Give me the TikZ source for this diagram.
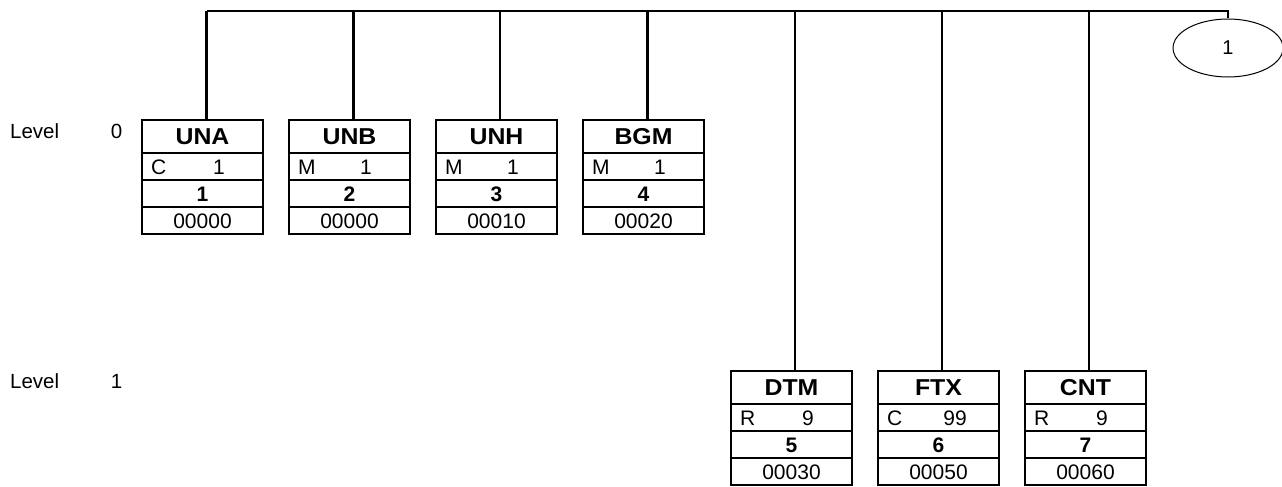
\documentclass[tikz,border=0pt]{standalone}
\usepackage{fontspec}
\setmainfont{Liberation Sans}
\usetikzlibrary{shapes.geometric}
\tikzset{
  segbox/.style={draw, line width=2pt, rectangle, minimum width=121pt, minimum height=114pt, inner sep=0pt},
  rowline/.style={line width=2pt},
  conn/.style={line width=2.2pt},
  captxt/.style={inner sep=0pt, text height=15pt, text depth=0pt, font=\fontsize{21}{25}\selectfont},
  ttltxt/.style={inner sep=0pt, text height=16.2pt, text depth=0pt, font=\fontsize{23}{27}\selectfont\bfseries},
  lvltxt/.style={inner sep=0pt, text height=14.6pt, text depth=0pt, font=\fontsize{20.5}{24}\selectfont},
  oval/.style={draw, ellipse, line width=1pt, minimum width=110pt, minimum height=58pt, inner sep=0pt}
}
\newcommand\segbox[8]{%
  \node[segbox] (#1) at (#2+60.5, #3+57) {};
  \draw[rowline] ([yshift=-34pt]#1.north west) -- ([yshift=-34pt]#1.north east);
  \draw[rowline] ([yshift=-61pt]#1.north west) -- ([yshift=-61pt]#1.north east);
  \draw[rowline] ([yshift=-88pt]#1.north west) -- ([yshift=-88pt]#1.north east);
  \node[ttltxt] (#1-t) at ([yshift=-17.5pt]#1.north) {\scalebox{1.08}[1]{#4}};
  \node[captxt, anchor=west] (#1-s) at ([xshift=10pt,yshift=-47.5pt]#1.north west) {#5};
  \node[captxt] (#1-r) at ([xshift=78pt,yshift=-47.5pt]#1.north west) {#6};
  \node[captxt, font=\fontsize{21}{25}\selectfont\bfseries] (#1-n) at ([yshift=-74.5pt]#1.north) {#7};
  \node[captxt] (#1-c) at ([yshift=-101.5pt]#1.north) {#8};
}
\begin{document}
\begin{tikzpicture}[x=1pt, y=-1pt]
\useasboundingbox (0,0) rectangle (1282,487);
% level labels
\node[lvltxt, anchor=west] (l0) at (10,131) {Level};
\node[lvltxt] (l0n) at (116.5,131) {0};
\node[lvltxt, anchor=west] (l1) at (10,381) {Level};
\node[lvltxt] (l1n) at (116.5,381) {1};
% boxes
\segbox{una}{142}{120}{UNA}{C}{1}{1}{00000}
\segbox{unb}{289}{120}{UNB}{M}{1}{2}{00000}
\segbox{unh}{436}{120}{UNH}{M}{1}{3}{00010}
\segbox{bgm}{583}{120}{BGM}{M}{1}{4}{00020}
\segbox{dtm}{731}{371}{DTM}{R}{9}{5}{00030}
\segbox{ftx}{878}{371}{FTX}{C}{99}{6}{00050}
\segbox{cnt}{1025}{371}{CNT}{R}{9}{7}{00060}
% oval
\node[oval] (ov) at (1228,48) {\fontsize{20}{24}\selectfont 1};
% bus coordinates
\coordinate (b1) at (206.5,11);
\coordinate (b2) at (353.5,11);
\coordinate (b3) at (500,11);
\coordinate (b4) at (647.5,11);
\coordinate (b5) at (795,11);
\coordinate (b6) at (942,11);
\coordinate (b7) at (1089,11);
\draw[conn] (b1) -| (ov.north);
\draw[conn] (b1) -- (b1 |- una.north);
\draw[conn] (b2) -- (b2 |- unb.north);
\draw[conn] (b3) -- (b3 |- unh.north);
\draw[conn] (b4) -- (b4 |- bgm.north);
\draw[conn] (b5) -- (b5 |- dtm.north);
\draw[conn] (b6) -- (b6 |- ftx.north);
\draw[conn] (b7) -- (b7 |- cnt.north);
\end{tikzpicture}
\end{document}
